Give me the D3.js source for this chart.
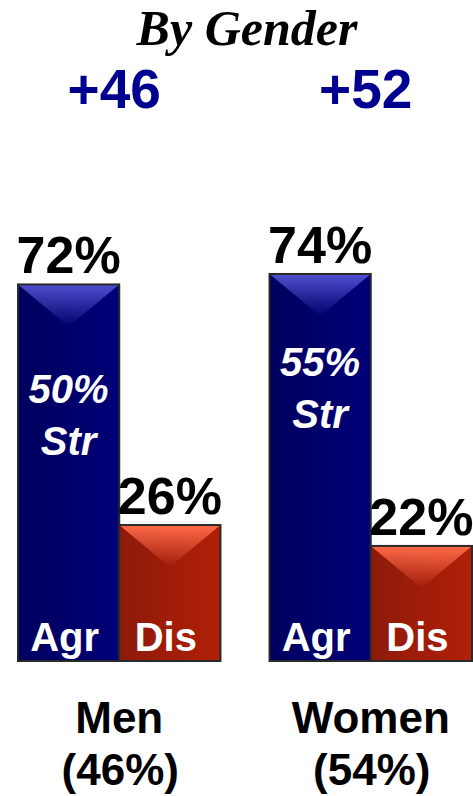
<!DOCTYPE html>
<html>
<head>
<meta charset="utf-8">
<script src="https://cdn.jsdelivr.net/npm/d3@7"></script>
<style>
  body { margin: 0; background: #fff; }
  svg { display: block; }
</style>
</head>
<body>
<div id="chart"></div>
<script>
const WIDTH = 473;
const HEIGHT = 796;

// Data.
const groups = ["Men", "Women"];
const groupShares = ["(46%)", "(54%)"];
const margins = ["+46", "+52"];
const series = ["Agr", "Dis"];
const agree = [72, 74];
const disagree = [26, 22];
const strongAgree = [50, 55];

window.onload = function() {

    var svg = d3.select("#chart").append("svg")
                .attr("width", WIDTH)
                .attr("height", HEIGHT);

    var defs = svg.append("defs");

    // body gradients (slightly darker on the left)
    function bodyGrad(id, c1, c2) {
        var g = defs.append("linearGradient").attr("id", id)
                    .attr("x1", 0).attr("x2", 1).attr("y1", 0).attr("y2", 0);
        g.append("stop").attr("offset", "0%").attr("stop-color", c1);
        g.append("stop").attr("offset", "100%").attr("stop-color", c2);
    }
    bodyGrad("bodyAgr", "#00005e", "#000078");
    bodyGrad("bodyDis", "#8e1a0a", "#b02008");

    // top bevel gradients
    function bevelGrad(id, c) {
        var g = defs.append("linearGradient").attr("id", id)
                    .attr("x1", 0).attr("x2", 0).attr("y1", 0).attr("y2", 1);
        g.append("stop").attr("offset", "0%").attr("stop-color", c).attr("stop-opacity", 1);
        g.append("stop").attr("offset", "100%").attr("stop-color", c).attr("stop-opacity", 0);
    }
    bevelGrad("bevelAgr", "#5050d0");
    bevelGrad("bevelDis", "#ff6a48");

    var x0 = d3.scaleBand().domain(groups).range([18, 472]).paddingInner(0.195);
    var x1 = d3.scaleBand().domain(series).range([0, x0.bandwidth()]);
    var y = d3.scaleLinear().domain([0, 100]).range([661, 138]);

    var rows = groups.map(function (g, i) {
        return {group: g, share: groupShares[i], margin: margins[i], str: strongAgree[i],
                bars: [{key: "Agr", value: agree[i]}, {key: "Dis", value: disagree[i]}]};
    });

    // title
    svg.append("text")
       .attr("x", 247).attr("y", 45)
       .attr("text-anchor", "middle")
       .attr("font-family", "'Liberation Serif', 'Times New Roman', serif")
       .attr("font-weight", "bold").attr("font-style", "italic")
       .attr("font-size", "50px")
       .attr("fill", "#000")
       .text("By Gender");

    var sans = "'Liberation Sans', Arial, sans-serif";

    var grp = svg.selectAll("g.grp")
                 .data(rows)
                 .enter()
                 .append("g")
                 .attr("class", "grp")
                 .attr("transform", function (d) { return "translate(" + x0(d.group) + ",0)"; });

    // net margin
    grp.append("text")
       .attr("x", x0.bandwidth() / 2 - 5).attr("y", 108)
       .attr("text-anchor", "middle")
       .attr("font-family", sans).attr("font-weight", "bold")
       .attr("font-size", "55px")
       .attr("fill", "#000090")
       .text(function (d) { return d.margin; });

    var bar = grp.selectAll("g.bar")
                 .data(function (d) { return d.bars; })
                 .enter()
                 .append("g")
                 .attr("class", "bar");

    bar.append("rect")
       .attr("x", function (d) { return x1(d.key); })
       .attr("y", function (d) { return y(d.value); })
       .attr("width", x1.bandwidth())
       .attr("height", function (d) { return y(0) - y(d.value); })
       .attr("fill", function (d) { return "url(#body" + d.key + ")"; });

    // bevel at top of each bar
    bar.append("path")
       .attr("d", function (d) {
           var l = x1(d.key), r = l + x1.bandwidth(), t = y(d.value), m = (l + r) / 2;
           return "M" + l + "," + t + "L" + r + "," + t + "L" + m + "," + (t + 42) + "Z";
       })
       .attr("fill", function (d) { return "url(#bevel" + d.key + ")"; });

    bar.append("rect")
       .attr("x", function (d) { return x1(d.key); })
       .attr("y", function (d) { return y(d.value); })
       .attr("width", x1.bandwidth())
       .attr("height", function (d) { return y(0) - y(d.value); })
       .attr("fill", "none")
       .attr("stroke", "#2a2a2a")
       .attr("stroke-width", 2);

    // value labels above
    bar.append("text")
       .attr("x", function (d) { return x1(d.key) + x1.bandwidth() / 2; })
       .attr("y", function (d) { return y(d.value) - 11; })
       .attr("text-anchor", "middle")
       .attr("font-family", sans).attr("font-weight", "bold")
       .attr("font-size", "52px")
       .attr("fill", "#000")
       .text(function (d) { return d.value + "%"; });

    // series labels at bottom
    bar.append("text")
       .attr("x", function (d) { return x1(d.key) + x1.bandwidth() / 2 - 4; })
       .attr("y", y(0) - 10)
       .attr("text-anchor", "middle")
       .attr("font-family", sans).attr("font-weight", "bold")
       .attr("font-size", "40px")
       .attr("fill", "#fff")
       .text(function (d) { return d.key; });

    // strong agree inside Agr bar
    var strT = grp.append("text")
       .attr("text-anchor", "middle")
       .attr("font-family", sans).attr("font-weight", "bold").attr("font-style", "italic")
       .attr("font-size", "40px")
       .attr("fill", "#fff");
    strT.append("tspan")
        .attr("x", x1("Agr") + x1.bandwidth() / 2)
        .attr("y", function (d) { return y(d.str) + 3; })
        .text(function (d) { return d.str + "%"; });
    strT.append("tspan")
        .attr("x", x1("Agr") + x1.bandwidth() / 2)
        .attr("y", function (d) { return y(d.str) + 55; })
        .text("Str");

    // group labels
    grp.append("text")
       .attr("x", x0.bandwidth() / 2).attr("y", 733)
       .attr("text-anchor", "middle")
       .attr("font-family", sans).attr("font-weight", "bold")
       .attr("font-size", "44px")
       .attr("fill", "#000")
       .text(function (d) { return d.group; });

    grp.append("text")
       .attr("x", x0.bandwidth() / 2 + 1).attr("y", 785)
       .attr("text-anchor", "middle")
       .attr("font-family", sans).attr("font-weight", "bold")
       .attr("font-size", "44px")
       .attr("fill", "#000")
       .text(function (d) { return d.share; });
};
</script>
</body>
</html>
